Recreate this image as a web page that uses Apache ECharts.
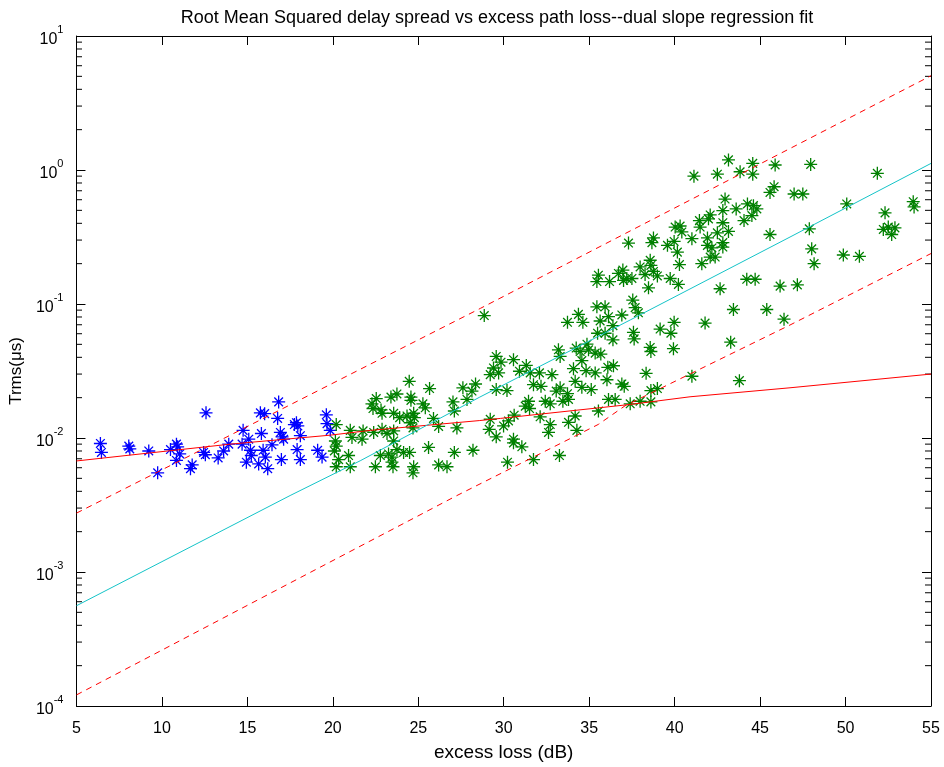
<!DOCTYPE html>
<html><head><meta charset="utf-8">
<script src="https://cdn.jsdelivr.net/npm/echarts@6/dist/echarts.min.js"></script>
<style>html,body{margin:0;padding:0;background:#fff}#c{width:944px;height:767px}</style>
</head><body><div id="c"></div><script>
const titleText = 'Root Mean Squared delay spread vs excess path loss--dual slope regression fit';
const xName = 'excess loss (dB)';
const yName = 'Trms(\u03bcs)';
const xMin = 5, xMax = 55, xStep = 5;
const yMin = 1e-4, yMax = 10;

const blueX = [6.40,6.46,8.06,8.12,9.23,9.75,10.50,10.85,10.92,11.04,10.85,11.77,11.67,12.58,12.44,12.54,13.29,13.61,13.91,16.83,15.76,16.01,16.77,14.75,15.82,17.87,17.95,17.75,19.62,19.66,19.85,16.93,17.03,17.12,18.10,15.08,14.69,16.44,15.18,15.23,15.92,16.05,17.91,14.94,15.66,16.19,16.99,18.10,19.11,19.37];
const blueY = [0.0091,0.0078,0.0087,0.0083,0.0080,0.0055,0.0082,0.0090,0.0086,0.0076,0.0068,0.0063,0.0059,0.0154,0.0078,0.0075,0.0071,0.0080,0.0090,0.0186,0.0154,0.0152,0.0140,0.0114,0.0108,0.0130,0.0123,0.0126,0.0149,0.0128,0.0114,0.0110,0.0102,0.0098,0.0104,0.0098,0.0090,0.0089,0.0081,0.0074,0.0081,0.0072,0.0082,0.0066,0.0064,0.0059,0.0069,0.0069,0.0081,0.0072];

const greenX = [20.20,20.15,20.20,20.09,21.02,21.12,21.77,21.71,20.34,20.20,20.92,21.02,22.29,22.35,22.82,22.88,22.54,24.47,25.66,23.75,23.40,24.57,24.57,25.27,25.41,23.56,23.91,24.34,24.73,24.77,24.53,24.69,25.89,26.19,27.03,27.11,27.61,27.85,28.14,28.35,27.26,22.39,22.88,23.17,23.56,23.56,22.78,23.26,23.46,23.75,24.14,24.49,25.60,27.11,28.20,22.49,23.46,23.52,24.73,24.69,26.19,26.68,
28.86,37.30,35.54,35.45,36.19,36.71,36.97,37.01,37.20,35.45,35.93,33.73,34.37,34.63,35.64,36.13,36.91,36.39,35.49,35.93,36.39,33.20,33.30,34.24,34.47,34.87,34.96,35.35,35.68,34.57,29.56,29.84,30.57,29.40,29.21,29.70,30.92,31.32,31.55,32.09,32.82,31.74,32.18,34.08,34.82,35.35,36.09,36.42,36.04,34.18,34.57,35.12,36.91,29.56,30.19,33.07,33.30,33.73,33.79,33.46,31.45,31.26,31.51,32.43,32.72,36.13,36.52,32.13,34.18,33.79,34.28,35.54,29.21,29.15,29.56,29.99,30.28,30.61,32.72,32.62,30.57,30.57,31.06,30.22,31.74,33.26,
43.15,44.57,45.88,41.13,42.50,43.83,44.57,45.82,45.58,42.95,42.82,43.60,44.26,44.61,44.81,44.52,44.06,42.08,41.98,41.45,41.49,42.82,42.50,43.15,40.03,40.32,40.42,41.01,41.92,41.92,42.18,42.82,42.82,45.58,38.76,38.67,39.58,39.97,40.16,42.08,42.37,41.59,38.57,38.61,40.28,37.98,38.27,38.76,38.99,37.50,39.74,40.22,38.47,44.22,44.71,46.17,42.66,37.55,37.69,37.88,43.44,45.39,46.40,39.97,41.78,39.15,39.78,37.59,37.63,38.57,38.61,39.93,43.28,38.33,41.01,43.79,37.05,38.61,38.99,37.98,38.61,37.40,
47.96,51.86,46.99,47.50,50.07,53.96,54.01,52.31,47.88,52.21,52.50,52.89,52.70,48.02,48.16,49.87,50.81,47.18];
const greenY = [0.0126,0.0095,0.0087,0.0080,0.0114,0.0101,0.0113,0.0098,0.0069,0.0061,0.0074,0.0061,0.0180,0.0166,0.0162,0.0153,0.0197,0.0265,0.0234,0.0213,0.0202,0.0202,0.0191,0.0180,0.0168,0.0153,0.0142,0.0146,0.0153,0.0142,0.0130,0.0119,0.0140,0.0122,0.0186,0.0159,0.0237,0.0194,0.0224,0.0253,0.0119,0.0110,0.0116,0.0108,0.0113,0.0095,0.0074,0.0076,0.0072,0.0082,0.0078,0.0078,0.0085,0.0078,0.0081,0.0061,0.0066,0.0061,0.0061,0.0055,0.0063,0.0061,
0.0820,0.285,0.164,0.147,0.147,0.169,0.179,0.150,0.155,0.0953,0.0953,0.0730,0.0837,0.0730,0.0747,0.0804,0.0828,0.0689,0.0605,0.0605,0.0540,0.0455,0.0406,0.0469,0.0442,0.0501,0.0455,0.0430,0.0423,0.0378,0.0406,0.0368,0.0384,0.0333,0.0297,0.0306,0.0315,0.0348,0.0306,0.0306,0.0297,0.0250,0.0243,0.0329,0.0318,0.0306,0.0337,0.0346,0.0272,0.0265,0.0239,0.0230,0.0253,0.0230,0.0226,0.0224,0.0237,0.0214,0.0194,0.0188,0.0188,0.0173,0.0166,0.0188,0.0180,0.0194,0.0194,0.0144,0.0146,0.0131,0.0114,0.0159,0.0138,0.0116,0.0102,0.0123,0.0134,0.0148,0.0126,0.0110,0.0098,0.0092,0.0086,0.0066,0.0069,0.0074,
1.19,1.12,1.09,0.90,0.93,0.97,0.93,0.75,0.68,0.607,0.498,0.512,0.558,0.542,0.512,0.457,0.419,0.462,0.432,0.419,0.375,0.404,0.340,0.348,0.375,0.382,0.345,0.307,0.311,0.274,0.262,0.287,0.266,0.330,0.311,0.287,0.274,0.293,0.244,0.224,0.224,0.200,0.212,0.194,0.197,0.189,0.166,0.175,0.162,0.155,0.155,0.140,0.132,0.153,0.153,0.136,0.130,0.107,0.094,0.086,0.091,0.091,0.077,0.073,0.072,0.065,0.0605,0.0615,0.0549,0.0474,0.0442,0.0464,0.0519,0.0304,0.0289,0.0268,0.0243,0.0226,0.0234,0.0188,0.0186,0.0180,
1.10,0.945,0.662,0.662,0.558,0.58,0.53,0.479,0.364,0.360,0.375,0.370,0.330,0.258,0.200,0.232,0.227,0.139];

const fitRedX = [5,14.0,19.85,22.2,28.6,29.8,37.4,40.9,46.75,55];
const fitRedY = [0.00674,0.0090,0.0105,0.0114,0.0135,0.0140,0.0178,0.0203,0.0237,0.0300];
const fitCyanX = [5,17.5,21.6,28.6,37.4,46.75,55];
const fitCyanY = [0.00056,0.00372,0.00676,0.0202,0.076,0.316,1.12];
const upperX = [5,28.63,38.57,55];
const upperY = [0.00275,0.0927,0.419,5.05];
const lowerX = [5,27.26,35.54,37.1,46.75,55];
const lowerY = [0.000121,0.00372,0.01264,0.0174,0.0697,0.238];

const zip = (a, b) => a.map((v, i) => [v, b[i]]);
const FONT = 'Liberation Sans, Arial, sans-serif';
const star = 'path://M6,0L6,12M0,6L12,6M2,2L10,10M2,10L10,2';

const chart = echarts.init(document.getElementById('c'), null, {renderer: 'canvas'});
const GL = 76, GR = 13, GT = 36, GB = 57;
const tickStyle = {show: true, inside: true, length: 9, lineStyle: {color: '#000', width: 1}};
const axisLine = {show: true, onZero: false, lineStyle: {color: '#000', width: 1}};
function scatter(name, x, y, color) {
  return {name, type: 'scatter', data: zip(x, y), symbol: star, symbolSize: 13,
    itemStyle: {color: 'rgba(0,0,0,0)', borderColor: color, borderWidth: 1.3, opacity: 1},
    emphasis: {disabled: true}, silent: true, animation: false};
}
function line(name, x, y, color, dashed) {
  return {name, type: 'line', data: zip(x, y), showSymbol: false, symbol: 'none',
    lineStyle: {color, width: 1, type: dashed ? [6, 5] : 'solid'}, silent: true, animation: false};
}
chart.setOption({
  animation: false,
  backgroundColor: '#fff',
  title: {text: titleText, left: 492, textAlign: 'center', top: 4,
    textStyle: {fontFamily: FONT, fontSize: 18, fontWeight: 'normal', color: '#000'}},
  grid: {left: GL, right: GR, top: GT, bottom: GB, containLabel: false},
  xAxis: [
    {type: 'value', min: xMin, max: xMax, interval: xStep, position: 'bottom',
     axisLine, axisTick: tickStyle, splitLine: {show: false},
     axisLabel: {color: '#000', fontFamily: FONT, fontSize: 16, margin: 15},
     name: xName, nameLocation: 'middle', nameGap: 37,
     nameTextStyle: {color: '#000', fontFamily: FONT, fontSize: 19}},
    {type: 'value', min: xMin, max: xMax, interval: xStep, position: 'top',
     axisLine, axisTick: tickStyle, axisLabel: {show: false}, splitLine: {show: false}}
  ],
  yAxis: [
    {type: 'log', logBase: 10, min: yMin, max: yMax, position: 'left',
     axisLine, axisTick: tickStyle, splitLine: {show: false},
     axisLabel: {color: '#000', fontFamily: FONT, margin: 13,
       formatter: v => '{b|10}{s|' + Math.round(Math.log10(v)) + '}',
       rich: {b: {fontFamily: FONT, fontSize: 16, lineHeight: 24, verticalAlign: 'bottom', color: '#000'},
              s: {fontFamily: FONT, fontSize: 11, lineHeight: 24, verticalAlign: 'top', color: '#000'}}},
     name: yName, nameLocation: 'middle', nameGap: 50,
     nameTextStyle: {color: '#000', fontFamily: FONT, fontSize: 17}},
    {type: 'log', logBase: 10, min: yMin, max: yMax, position: 'right',
     axisLine, axisTick: tickStyle, axisLabel: {show: false}, splitLine: {show: false}}
  ],
  series: [
    scatter('low', blueX, blueY, '#0000ff'),
    scatter('high', greenX, greenY, '#008000'),
    line('fit1', fitRedX, fitRedY, '#ff0000', false),
    line('fit2', fitCyanX, fitCyanY, '#14c4c8', false),
    line('upper', upperX, upperY, '#ff0000', true),
    line('lower', lowerX, lowerY, '#ff0000', true)
  ]
});
// minor log ticks on both vertical sides
const W = 944, H = 767;
const minor = [];
for (let k = -4; k < 1; k++) {
  for (let m = 2; m <= 9; m++) {
    const py = chart.convertToPixel({yAxisIndex: 0}, m * Math.pow(10, k));
    minor.push({type: 'line', shape: {x1: GL, y1: py, x2: GL + 6, y2: py}, style: {stroke: '#000', lineWidth: 1}, silent: true});
    minor.push({type: 'line', shape: {x1: W - GR - 6, y1: py, x2: W - GR, y2: py}, style: {stroke: '#000', lineWidth: 1}, silent: true});
  }
}
chart.setOption({graphic: minor});
</script></body></html>
